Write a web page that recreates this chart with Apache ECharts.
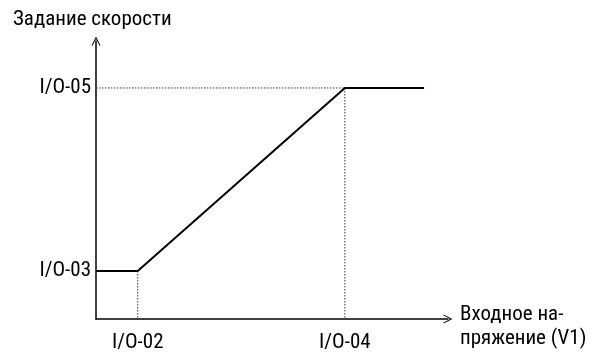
<!DOCTYPE html>
<html><head><meta charset="utf-8">
<script src="https://cdn.jsdelivr.net/npm/echarts@6/dist/echarts.min.js"></script>
<style>html,body{margin:0;padding:0;background:#fff}#c{width:594px;height:353px}</style>
</head><body><div id="c"></div>
<script>
// Characteristic points (x = input voltage, y = speed reference), arbitrary units
const curveX = [0, 11.85, 70.7, 93.2];
const curveY = [17.25, 17.25, 83.1, 83.1];
const xTickValues = [11.85, 70.7];
const xTickLabels = ['I/O-02', 'I/O-04'];
const yTickValues = [17.25, 83.1];
const yTickLabels = ['I/O-03', 'I/O-05'];
const yTitle = 'Задание скорости';
const xTitleLines = ['Входное на-', 'пряжение (V1)'];

const FONT = '"Roboto Condensed", "Liberation Sans", sans-serif';
const FS = 21;
const chevron = 'path://M5,0 L10,10 L8.8,10 L5,2.4 L1.2,10 L0,10 Z';

const guideH = [[0, curveY[2]], [curveX[2], curveY[2]]];
const guideV1 = [[curveX[2], curveY[2]], [curveX[2], 0]];
const guideV2 = [[curveX[1], curveY[1]], [curveX[1], 0]];

const chart = echarts.init(document.getElementById('c'), null, {renderer: 'canvas'});
chart.setOption({
  animation: false,
  title: {text: yTitle, left: 8, top: 4, textStyle: {fontFamily: FONT, fontSize: FS, fontWeight: 'normal', color: '#000'}},
  grid: {left: 96, right: 146, top: 41, bottom: 32, containLabel: false},
  xAxis: {
    type: 'value', min: 0, max: 100,
    splitLine: {show: false},
    axisTick: {show: false},
    axisLine: {lineStyle: {color: '#000', width: 1.5}, symbol: ['none', chevron], symbolSize: [9, 10]},
    axisLabel: {customValues: xTickValues, formatter: v => xTickLabels[xTickValues.indexOf(v)] || '', fontFamily: FONT, fontSize: FS, color: '#000', margin: 13},
    name: '{s| }\n' + xTitleLines.map(l => '{t|' + l + '}').join('\n'), nameLocation: 'end', nameGap: 12,
    nameTextStyle: {align: 'left', verticalAlign: 'middle',
      rich: {s: {fontSize: 1, lineHeight: 16}, t: {fontFamily: FONT, fontSize: FS, color: '#000', lineHeight: 24}}}
  },
  yAxis: {
    type: 'value', min: 0, max: 100,
    splitLine: {show: false},
    axisTick: {show: false},
    axisLine: {lineStyle: {color: '#000', width: 1.5}, symbol: ['none', chevron], symbolSize: [9, 10]},
    axisLabel: {customValues: yTickValues, formatter: v => yTickLabels[yTickValues.indexOf(v)] || '', fontFamily: FONT, fontSize: FS, color: '#000', margin: 5}
  },
  series: [
    {type: 'line', data: guideH, symbol: 'none', lineStyle: {color: '#333', width: 1, type: [1.5, 1.5]}, z: 1},
    {type: 'line', data: guideV1, symbol: 'none', lineStyle: {color: '#333', width: 1, type: [1.5, 1.5]}, z: 1},
    {type: 'line', data: guideV2, symbol: 'none', lineStyle: {color: '#333', width: 1, type: [1.5, 1.5]}, z: 1},
    {type: 'line', data: curveX.map((x, i) => [x, curveY[i]]), symbol: 'none', lineStyle: {color: '#000', width: 2}, z: 3}
  ]
});
</script></body></html>
